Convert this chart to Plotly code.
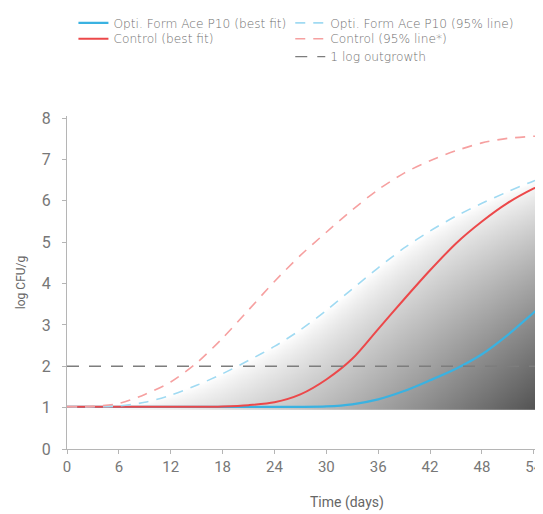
import numpy as np
import plotly.graph_objects as go

# ---- data ----
days = [0, 3, 6, 9, 12, 15, 18, 21, 24, 27, 30, 33, 36, 39, 42, 45, 48, 51, 54, 57]
opti_best = [1.02, 1.02, 1.02, 1.02, 1.02, 1.02, 1.02, 1.02, 1.02, 1.02, 1.03, 1.08, 1.20, 1.40, 1.66, 1.94, 2.29, 2.76, 3.30, 3.85]
control_best = [1.02, 1.02, 1.02, 1.02, 1.02, 1.02, 1.03, 1.06, 1.13, 1.32, 1.68, 2.18, 2.90, 3.62, 4.32, 4.97, 5.50, 5.95, 6.30, 6.58]
opti_95 = [1.02, 1.02, 1.04, 1.13, 1.30, 1.54, 1.82, 2.14, 2.48, 2.88, 3.35, 3.87, 4.38, 4.86, 5.27, 5.63, 5.94, 6.22, 6.48, 6.70]
control_95 = [1.02, 1.03, 1.10, 1.32, 1.62, 2.08, 2.68, 3.36, 4.05, 4.68, 5.24, 5.78, 6.27, 6.67, 6.97, 7.21, 7.40, 7.51, 7.56, 7.60]
outgrowth_level = 2
x_ticks = [0, 6, 12, 18, 24, 30, 36, 42, 48, 54]
y_ticks = [0, 1, 2, 3, 4, 5, 6, 7, 8]

BLUE = "rgb(58,178,225)"
RED = "rgb(236,72,74)"
BLUE_L = "rgb(160,218,242)"
RED_L = "rgb(246,160,160)"
GRAY = "rgb(125,125,125)"
FONT = "Roboto"
LFONT = "DejaVu Sans"

fig = go.Figure()

# ---- decorative shaded gradient under the Opti 95% line ----
gx = np.linspace(0, 57, 230)
gy = np.linspace(0.97, 7.0, 200)
top = np.interp(gx, days, opti_95)
X, Y = np.meshgrid(gx, gy)
T = np.broadcast_to(top, X.shape)
u = np.clip((T - Y) / np.maximum(T - 1.0, 0.05), 0, 1)
v = np.clip(X / 55.0, 0, 1)
z = (u ** 0.8) * (v ** 1.5)
z[Y > T] = 0
fig.add_trace(go.Heatmap(x=gx, y=gy, z=z, zmin=0, zmax=1, zsmooth="best",
                         colorscale=[[0, "rgb(255,255,255)"], [1, "rgb(80,80,80)"]],
                         showscale=False, hoverinfo="skip", showlegend=False))

# ---- lines ----
fig.add_trace(go.Scatter(x=days, y=opti_best, mode="lines", line=dict(color=BLUE, width=2.2, shape="spline", smoothing=0.8),
                         name="Opti. Form Ace P10 (best fit)", legend="legend", showlegend=True))
fig.add_trace(go.Scatter(x=days, y=control_best, mode="lines", line=dict(color=RED, width=2, shape="spline", smoothing=0.8),
                         name="Control (best fit)", legend="legend2", showlegend=True))
fig.add_trace(go.Scatter(x=days, y=opti_95, mode="lines", line=dict(color=BLUE_L, width=1.6, dash="10px,8px", shape="spline", smoothing=0.8),
                         name="Opti. Form Ace P10 (95% line)", legend="legend3", showlegend=True))
fig.add_trace(go.Scatter(x=days, y=control_95, mode="lines", line=dict(color=RED_L, width=1.6, dash="10px,8px", shape="spline", smoothing=0.8),
                         name="Control (95% line*)", legend="legend4", showlegend=True))
fig.add_trace(go.Scatter(x=[0, 57], y=[outgrowth_level, outgrowth_level], mode="lines",
                         line=dict(color=GRAY, width=1.3, dash="12px,10px"),
                         name="1 log outgrowth", legend="legend5", showlegend=True))

lc = dict(font=dict(family=LFONT, size=12.2, color="#707070", weight=300), bgcolor="rgba(0,0,0,0)",
          yanchor="middle", xanchor="left", itemwidth=30)

def row_y(px):
    return 1 + (113 - px) / 336

# page body adds an 8px margin, so the figure is offset by 8px
fig.update_layout(
    width=535, height=506,
    margin=dict(l=59, r=0, t=105, b=65),
    showlegend=True,
    plot_bgcolor="white", paper_bgcolor="white",
    font=dict(family=FONT, color="#666"),
    legend=dict(x=0.0136, y=row_y(19), **lc),
    legend2=dict(x=0.0136, y=row_y(35), **lc),
    legend3=dict(x=0.472, y=row_y(19), **lc),
    legend4=dict(x=0.472, y=row_y(35), **lc),
    legend5=dict(x=0.472, y=row_y(53), **lc),
    xaxis=dict(range=[0, 54.72], tickvals=x_ticks, showgrid=False, zeroline=False,
               showline=True, linecolor="#b5b5b5", linewidth=1.2,
               ticks="outside", ticklen=4, tickcolor="#b5b5b5", ticklabeloverflow="allow",
               tickfont=dict(family=FONT, size=15, color="#777")),
    yaxis=dict(range=[0, 8.05], tickvals=y_ticks, showgrid=False, zeroline=False,
               showline=True, linecolor="#b5b5b5", linewidth=1.2,
               ticks="outside", ticklen=4, tickcolor="#b5b5b5", ticklabelstandoff=8,
               tickfont=dict(family=FONT, size=16, color="#777")),
)

fig.add_annotation(text="log CFU/g", xref="paper", yref="paper", x=-0.098, y=0.5, textangle=-90,
                   xanchor="center", yanchor="middle", showarrow=False,
                   font=dict(family=FONT, size=12, color="#666"))
fig.add_annotation(text="Time (days)", xref="paper", yref="paper", x=(349 - 67) / 476, y=-0.16,
                   xanchor="center", yanchor="middle", showarrow=False,
                   font=dict(family=FONT, size=14, color="#666"))

fig.write_html("out.html")
